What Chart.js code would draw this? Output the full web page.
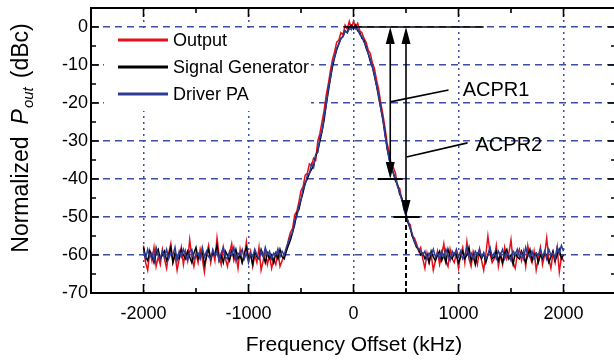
<!DOCTYPE html>
<html>
<head>
<meta charset="utf-8">
<script src="https://cdn.jsdelivr.net/npm/chart.js@4.4.0/dist/chart.umd.min.js"></script>
<style>
  html, body { margin: 0; padding: 0; background: #fff; overflow: hidden; }
  #wrap { width: 617px; height: 363px; }
</style>
</head>
<body>
<div id="wrap"><canvas id="acprChart" width="617" height="363"></canvas></div>
<script>
// Spectrum samples, frequency offset in kHz
const freqs = [
  -2000,-1980,-1960,-1940,-1920,-1900,-1880,-1860,-1840,-1820,
  -1800,-1780,-1760,-1740,-1720,-1700,-1680,-1660,-1640,-1620,
  -1600,-1580,-1560,-1540,-1520,-1500,-1480,-1460,-1440,-1420,
  -1400,-1380,-1360,-1340,-1320,-1300,-1280,-1260,-1240,-1220,
  -1200,-1180,-1160,-1140,-1120,-1100,-1080,-1060,-1040,-1020,
  -1000,-980,-960,-940,-920,-900,-880,-860,-840,-820,
  -800,-780,-760,-740,-720,-700,-680,-660,-640,-620,
  -600,-580,-560,-540,-520,-500,-480,-460,-440,-420,
  -400,-380,-360,-340,-320,-300,-280,-260,-240,-220,
  -200,-180,-160,-140,-120,-100,-80,-60,-40,-20,
  0,20,40,60,80,100,120,140,160,180,
  200,220,240,260,280,300,320,340,360,380,
  400,420,440,460,480,500,520,540,560,580,
  600,620,640,660,680,700,720,740,760,780,
  800,820,840,860,880,900,920,940,960,980,
  1000,1020,1040,1060,1080,1100,1120,1140,1160,1180,
  1200,1220,1240,1260,1280,1300,1320,1340,1360,1380,
  1400,1420,1440,1460,1480,1500,1520,1540,1560,1580,
  1600,1620,1640,1660,1680,1700,1720,1740,1760,1780,
  1800,1820,1840,1860,1880,1900,1920,1940,1960,1980,
  2000
];

// Normalized Pout (dBc)
const outputPA = [
  -57.5,-62,-64,-59,-61.5,-58,-63,-60.5,-62.5,-58.5,
  -61,-63.5,-59.5,-57,-62,-60,-64,-61,-58,-62.5,
  -59,-61.5,-56,-60.5,-63,-59.5,-62,-58.5,-61,-64.5,
  -60,-57.5,-62,-59,-61.5,-55.5,-60,-62.5,-58,-61,
  -63,-59.5,-57,-61.5,-60,-63.5,-58.5,-62,-60.5,-56.5,
  -61,-59,-63,-60,-62,-58,-64,-61.5,-59,-62.5,
  -60,-63.5,-61,-62.5,-59,-63,-61.5,-60,-59,-56,
  -54,-53,-49.5,-48.5,-46,-43,-42,-39,-38.5,-36,
  -36.5,-34.5,-35,-30,-28,-25,-22,-18,-15,-11.5,
  -8.5,-6.5,-4,-3.5,-1.5,-2,0.5,-0.5,1.5,-0.5,
  1.5,0,1,-1,-1.5,-3,-4,-6,-7,-9.5,
  -11,-14,-16.5,-20,-23,-26.5,-30.5,-33,-36.5,-37,
  -38.5,-42,-42.5,-45.5,-46,-49,-51.5,-52,-55,-55.5,
  -57,-59,-58,-61,-63.5,-59.5,-62,-60,-64,-61.5,
  -59,-62.5,-60,-57,-61.5,-63,-58.5,-61,-62,-59.5,
  -63.5,-60,-58,-62,-56.5,-61,-63,-59,-60.5,-62.5,
  -58.5,-61.5,-64,-60,-55,-59.5,-62,-61,-57.5,-63,
  -60,-62.5,-58,-61,-59.5,-56,-62,-63.5,-60,-58.5,
  -61.5,-59,-63,-57.5,-60.5,-62,-59,-64,-61,-58,
  -62.5,-60,-55.5,-61,-63.5,-59.5,-62,-58,-64.5,-60.5,
  -61.5
];
const signalGen = [
  -58,-60.5,-61.5,-59,-60,-62,-59.5,-58.5,-61,-60,
  -59,-61.5,-60,-58,-62,-59.5,-60.5,-61,-58.5,-60,
  -61,-59,-60.5,-62,-59.5,-58,-61,-60,-59,-62.5,
  -60.5,-58.5,-61,-59.5,-60,-57.5,-61.5,-60,-62,-59,
  -60,-61.5,-59,-60.5,-58.5,-61,-60,-62,-59.5,-58,
  -61,-60,-62.5,-59,-60.5,-61,-58.5,-60,-62,-59.5,
  -61,-60,-62,-59.5,-61,-58.5,-60.5,-61,-59,-57.5,
  -56,-54,-52,-49,-48,-45.5,-43.5,-41,-40,-38.5,
  -37.5,-36.5,-34,-32.5,-30,-27.5,-24.5,-20.5,-17,-13.5,
  -10.5,-8,-6,-4.5,-3,-2.5,-1,-1.5,0,0.5,
  -0.5,0.5,-1,-1.5,-3,-3.5,-5.5,-7,-9,-10.5,
  -13,-15.5,-18.5,-21.5,-24.5,-28,-32,-34.5,-37,-38.5,
  -40.5,-41.5,-44,-45,-48,-49.5,-51.5,-53,-55,-56.5,
  -58,-58.5,-60,-59.5,-61,-60,-62,-59,-60.5,-61.5,
  -60,-59,-61.5,-60,-62,-58.5,-60.5,-61,-59.5,-60,
  -62,-60.5,-59,-61,-60,-58,-61.5,-60,-62.5,-59.5,
  -60,-61,-59.5,-62,-60,-58.5,-61,-60.5,-59,-61.5,
  -60,-62,-59.5,-58.5,-61,-60,-62.5,-59.5,-60.5,-61,
  -59,-60.5,-62,-60,-58.5,-61.5,-60,-59.5,-62,-60,
  -61,-59.5,-60,-62,-60.5,-59,-61.5,-60,-58.5,-61,
  -60
];
const driverPA = [
  -59,-61,-58.5,-60.5,-59.5,-61.5,-58,-60,-61,-59,
  -60.5,-58.5,-61,-59.5,-60,-58,-61.5,-59,-60.5,-58.5,
  -60,-61.5,-59,-58.5,-61,-60,-59.5,-61,-58,-60.5,
  -59,-60.5,-61,-58.5,-60,-59,-61.5,-59.5,-58,-60.5,
  -61,-59,-60,-58,-61.5,-59.5,-60,-58.5,-61,-59.5,
  -62,-59.5,-60.5,-58.5,-60,-61,-59,-60.5,-58,-60,
  -59,-61,-59.5,-60,-58.5,-60.5,-59,-60,-58,-56.5,
  -55,-54,-51,-50,-47,-45.5,-42.5,-41.5,-39,-38.5,
  -36,-37,-33.5,-33,-29,-27.5,-23.5,-20.5,-16,-13.5,
  -9.5,-8,-5.5,-4.5,-3,-2.5,-1,-1.5,-0.5,-0.5,
  0,-0.5,-0.5,-2,-2.5,-4,-5,-7,-8.5,-10.5,
  -12.5,-15.5,-18,-21.5,-24,-28.5,-31.5,-35,-36.5,-38.5,
  -40,-42,-43.5,-45.5,-47,-50,-51,-53,-54.5,-56.5,
  -57.5,-58.5,-59,-60,-59,-61,-59.5,-60,-58.5,-60.5,
  -59.5,-61,-59,-60.5,-58.5,-60,-61.5,-59,-60,-58.5,
  -60.5,-59,-61,-60,-58,-60.5,-59.5,-61,-59,-60,
  -58.5,-60.5,-59.5,-61,-60,-58,-60.5,-59.5,-61,-59,
  -60,-58.5,-61,-59.5,-60,-61.5,-59,-60,-58.5,-60.5,
  -59.5,-61,-58,-60,-60.5,-59,-61,-59.5,-60,-58.5,
  -60.5,-59,-61,-58.5,-60,-59.5,-61,-58,-59.5,-57.5,
  -59
];

const xTicks = [-2000, -1000, 0, 1000, 2000];
const yTicks = [-70, -60, -50, -40, -30, -20, -10, 0];

// ACPR markers: offsets (kHz) and the level reached at each
const acprOffsets = [350, 500];
const acprLevels = [-40, -50];
const acprNames = ['ACPR1', 'ACPR2'];

const FONT = "'Liberation Sans', Arial, sans-serif";
const GRID_BLUE = '#3d4f9f';

const pts = ys => freqs.map((f, i) => ({ x: f, y: ys[i] }));

// frame, inward ticks, legend box, arrows and axis titles
const decorations = {
  id: 'decorations',
  afterDatasetsDraw(chart) {
    const { ctx, chartArea: a, scales: { x, y } } = chart;
    ctx.save();

    // legend sits on a white box above the grid
    ctx.fillStyle = '#fff';
    ctx.fillRect(104, 31, 207, 80);
    const items = [['Output', '#e3101b'], ['Signal Generator', '#000'], ['Driver PA', '#2c3c96']];
    ctx.font = `18px ${FONT}`;
    ctx.textBaseline = 'middle';
    items.forEach(([label, col], i) => {
      const ly = 40 + i * 27;
      ctx.strokeStyle = col;
      ctx.lineWidth = 3;
      ctx.beginPath(); ctx.moveTo(118, ly); ctx.lineTo(168, ly); ctx.stroke();
      ctx.fillStyle = '#000';
      ctx.fillText(label, 173, ly + 1);
    });

    // reference line at 0 dBc
    ctx.strokeStyle = '#000';
    ctx.fillStyle = '#000';
    ctx.lineWidth = 1.6;
    const y0 = y.getPixelForValue(0);
    ctx.beginPath(); ctx.moveTo(x.getPixelForValue(-90), y0); ctx.lineTo(x.getPixelForValue(1240), y0); ctx.stroke();

    const head = (px, tip, dir) => {
      ctx.beginPath();
      ctx.moveTo(px, tip);
      ctx.lineTo(px - 4.5, tip + dir * 17);
      ctx.lineTo(px + 4.5, tip + dir * 17);
      ctx.closePath();
      ctx.fill();
    };
    const bars = [[230, 470], [380, 630]];
    acprOffsets.forEach((f, i) => {
      const px = x.getPixelForValue(f);
      const yb = y.getPixelForValue(acprLevels[i]);
      ctx.lineWidth = 1.6;
      ctx.beginPath(); ctx.moveTo(px, y0 + 10); ctx.lineTo(px, yb - 10); ctx.stroke();
      head(px, y0, 1);
      head(px, yb, -1);
      ctx.lineWidth = 2;
      ctx.beginPath();
      ctx.moveTo(x.getPixelForValue(bars[i][0]), yb);
      ctx.lineTo(x.getPixelForValue(bars[i][1]), yb);
      ctx.stroke();
    });

    // dashed drop line from the ACPR2 level to the axis
    ctx.setLineDash([5, 3]);
    ctx.lineWidth = 2;
    const xd = x.getPixelForValue(acprOffsets[1]);
    ctx.beginPath(); ctx.moveTo(xd, y.getPixelForValue(acprLevels[1])); ctx.lineTo(xd, a.bottom); ctx.stroke();
    ctx.setLineDash([]);

    // leader lines + labels
    const leaders = [
      { from: [350, -19.7], to: [905, -16.6], text: [1040, -16.4] },
      { from: [505, -34.2], to: [1086, -30.5], text: [1162, -31] }
    ];
    ctx.lineWidth = 1.6;
    ctx.font = `20px ${FONT}`;
    ctx.textBaseline = 'middle';
    leaders.forEach((l, i) => {
      ctx.beginPath();
      ctx.moveTo(x.getPixelForValue(l.from[0]), y.getPixelForValue(l.from[1]));
      ctx.lineTo(x.getPixelForValue(l.to[0]), y.getPixelForValue(l.to[1]));
      ctx.stroke();
      ctx.fillText(acprNames[i], x.getPixelForValue(l.text[0]), y.getPixelForValue(l.text[1]) + 1);
    });

    // frame
    ctx.lineWidth = 2;
    ctx.strokeRect(a.left, a.top, a.right - a.left, a.bottom - a.top);

    // inward ticks, major and minor
    ctx.lineWidth = 1.6;
    for (let v = -2500; v <= 2500; v += 500) {
      const px = x.getPixelForValue(v);
      const len = v % 1000 === 0 ? 9 : 5;
      ctx.beginPath();
      ctx.moveTo(px, a.bottom); ctx.lineTo(px, a.bottom - len);
      ctx.moveTo(px, a.top); ctx.lineTo(px, a.top + len);
      ctx.stroke();
    }
    for (let v = -70; v <= 5; v += 5) {
      const py = y.getPixelForValue(v);
      const len = v % 10 === 0 ? 8 : 5;
      ctx.beginPath();
      ctx.moveTo(a.left, py); ctx.lineTo(a.left + len, py);
      ctx.moveTo(a.right, py); ctx.lineTo(a.right - len, py);
      ctx.stroke();
    }

    // axis titles
    ctx.fillStyle = '#000';
    ctx.textBaseline = 'alphabetic';
    ctx.textAlign = 'center';
    ctx.font = `21px ${FONT}`;
    ctx.fillText('Frequency Offset (kHz)', 354, 351);

    // rotated y title with italic P and subscript "out"
    ctx.translate(28, 138);
    ctx.rotate(-Math.PI / 2);
    const parts = [
      ['Normalized', `23px ${FONT}`, 0, 12],
      ['P', `italic 23px ${FONT}`, 0, 1],
      ['out', `italic 15px ${FONT}`, 5, 9],
      ['(dBc)', `23px ${FONT}`, 0, 0]
    ];
    ctx.textAlign = 'left';
    let total = 0;
    parts.forEach(p => { ctx.font = p[1]; total += ctx.measureText(p[0]).width + p[3]; });
    let cx = -total / 2;
    parts.forEach(p => {
      ctx.font = p[1];
      ctx.fillText(p[0], cx, p[2]);
      cx += ctx.measureText(p[0]).width + p[3];
    });
    ctx.restore();
  }
};

new Chart(document.getElementById('acprChart'), {
  type: 'line',
  data: {
    datasets: [
      { label: 'Driver PA', data: pts(driverPA), borderColor: '#2c3c96', order: 0 },
      { label: 'Signal Generator', data: pts(signalGen), borderColor: '#000', order: 1 },
      { label: 'Output', data: pts(outputPA), borderColor: '#e3101b', order: 2 }
    ]
  },
  options: {
    responsive: false,
    animation: false,
    layout: { padding: { left: 0, right: 1, top: 8, bottom: 0 } },
    elements: {
      point: { radius: 0 },
      line: { borderWidth: 1.5, tension: 0 }
    },
    plugins: { legend: { display: false }, tooltip: { enabled: false } },
    scales: {
      x: {
        type: 'linear',
        min: -2500,
        max: 2500,
        afterBuildTicks: s => { s.ticks = xTicks.map(v => ({ value: v })); },
        afterFit: s => { s.height = 70; s.paddingLeft = 0; s.paddingRight = 0; },
        ticks: { color: '#000', font: { family: FONT, size: 18 }, padding: 10, maxRotation: 0, callback: v => String(v) },
        grid: { color: GRID_BLUE, lineWidth: 1.5, drawTicks: false },
        border: { display: false, dash: [2, 4] }
      },
      y: {
        min: -70,
        max: 5,
        afterBuildTicks: s => { s.ticks = yTicks.map(v => ({ value: v })); },
        afterFit: s => { s.width = 91; s.paddingTop = 0; s.paddingBottom = 0; },
        ticks: { color: '#000', font: { family: FONT, size: 18 }, padding: 3, callback: v => String(v) },
        grid: {
          color: c => (c.tick && c.tick.value === -70 ? 'rgba(0,0,0,0)' : GRID_BLUE),
          lineWidth: 1.5,
          drawTicks: false
        },
        border: { display: false, dash: [7, 5] }
      }
    }
  },
  plugins: [decorations]
});
</script>
</body>
</html>
